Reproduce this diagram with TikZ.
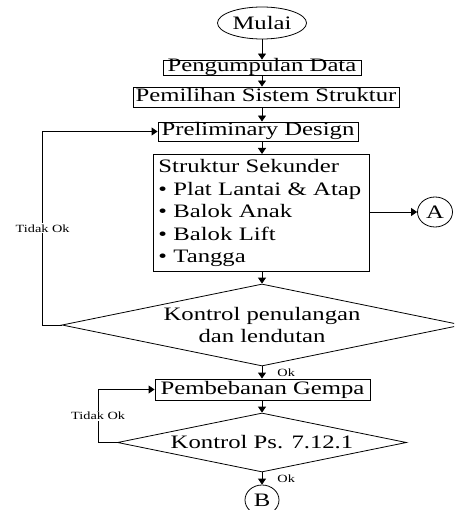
\documentclass[tikz,border=0pt]{standalone}
\usepackage{fontspec}
\setmainfont{Liberation Serif}[FakeStretch=1.3]
\usetikzlibrary{shapes.geometric,arrows.meta}

\tikzset{
  kotak/.style={draw, line width=0.9pt, inner sep=0pt, text height=12pt, text depth=3pt},
  putusan/.style={draw, diamond, line width=0.8pt, inner sep=0pt, shape aspect=4.9, align=center},
  bulat/.style={draw, ellipse, line width=0.8pt, inner sep=0pt},
  panah/.style={line width=0.9pt, -{Triangle[width=8pt,length=6pt]}},
  ket/.style={font=\fontsize{11}{13}\selectfont, inner sep=1pt}
}

\begin{document}
\begin{tikzpicture}[x=1pt, y=-1pt, font=\fontsize{19}{22.5}\selectfont]
        \clip (0,0) rectangle (454,510);
        \node[bulat, minimum width=89pt, minimum height=32pt] (mulai) at (262,23) {Mulai};
        \node[kotak, minimum width=198pt, minimum height=15pt] (data) at (262,67.5) {Pengumpulan Data};
        \node[kotak, minimum width=266pt, minimum height=20pt] (sistem) at (266,97) {Pemilihan Sistem Struktur};
        \node[kotak, minimum width=200pt, minimum height=19pt] (prelim) at (258,131.5) {Preliminary Design};
        \node[draw, line width=0.9pt, anchor=north west, inner sep=5pt, text width=206pt,
              minimum height=115pt, align=left] (sekunder) at (153,154)
              {Struktur Sekunder\\ \textbullet\ Plat Lantai \& Atap\\ \textbullet\ Balok Anak\\
               \textbullet\ Balok Lift\\ \textbullet\ Tangga};
        \node[bulat, minimum width=35pt, minimum height=30pt] (A) at (435,212) {A};
        \node[putusan, minimum width=400pt, minimum height=82pt] (kontrol) at (262,325) {Kontrol penulangan\\dan lendutan};
        \node[kotak, minimum width=215pt, minimum height=21pt] (gempa) at (262.5,389.5) {Pembebanan Gempa};
        \node[putusan, minimum width=289pt, minimum height=59pt] (ps) at (262,442.5) {Kontrol Ps. 7.12.1};
        \node[bulat, minimum width=34pt, minimum height=30pt] (B) at (262,500) {B};

        \draw[panah] (mulai) -- (data);
        \draw[panah] (data.south) -- (data.south |- sistem.north);
        \draw[panah] (sistem.south -| data) -- (prelim.north -| data);
        \draw[panah] (prelim.south -| data) -- (sekunder.north -| data);
        \draw[panah] (sekunder.south -| data) -- (kontrol.north);
        \draw[panah] (sekunder.east |- A) -- (A.west);
        \draw[panah] (kontrol.south) -- (gempa.north -| kontrol) node[ket, midway, right=14pt]{Ok};
        \draw[panah] (gempa.south -| kontrol) -- (ps.north);
        \draw[panah] (ps.south) -- (B) node[ket, midway, right=14pt]{Ok};
        \draw[panah] (kontrol.west) -- ++(-19,0) |- (prelim.west) node[ket, pos=0.25, fill=white]{Tidak Ok};
        \draw[panah] (ps.west) -- ++(-19,0) |- (gempa.west) node[ket, pos=0.25, fill=white]{Tidak Ok};
    \end{tikzpicture}
\end{document}
